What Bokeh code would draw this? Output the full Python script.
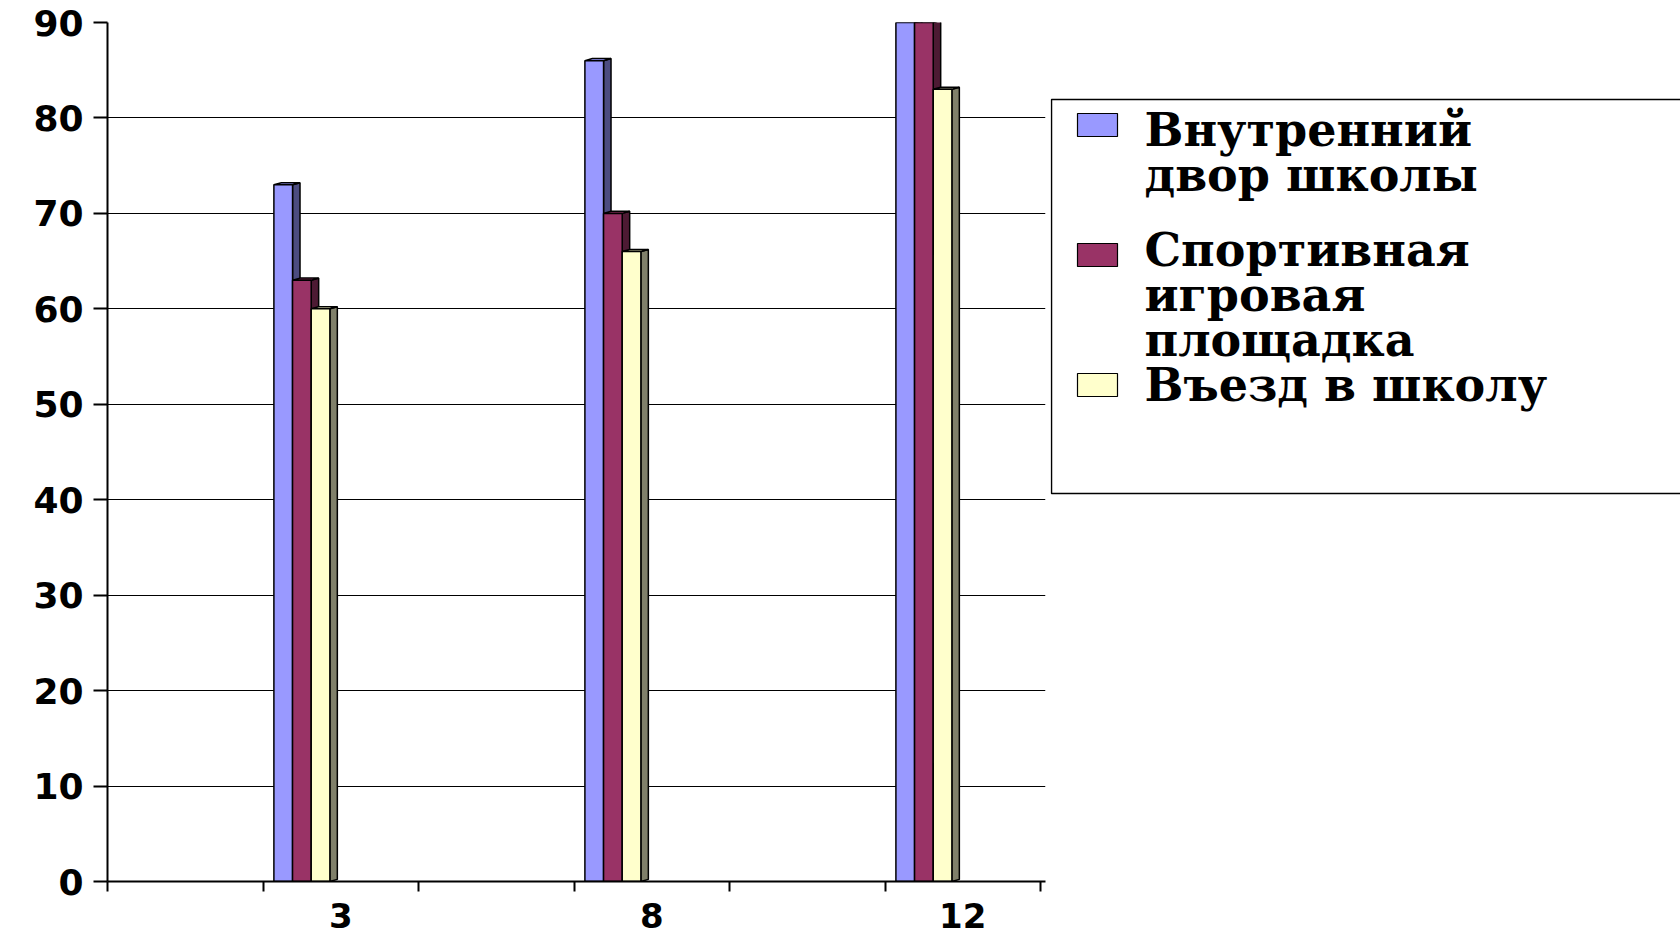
from bokeh.plotting import figure
from bokeh.models import FixedTicker, Range1d
from bokeh.layouts import row
from bokeh.core.properties import value
from bokeh.embed import file_html
from bokeh.resources import INLINE

# ---- data ----
categories = ["3", "8", "12"]
series_labels = ["Внутренний\nдвор школы", "Спортивная\nигровая\nплощадка", "Въезд в школу"]
inner_yard = [73, 86, 90]
sports_ground = [63, 70, 90]
school_entrance = [60, 66, 83]
y_ticks = [0, 10, 20, 30, 40, 50, 60, 70, 80, 90]

series = [inner_yard, sports_ground, school_entrance]
front_colors = ["#9999FF", "#993366", "#FFFFCC"]
side_colors = ["#4C4C80", "#4D1A33", "#80806A"]

# ---- layout helpers ----
slots = 6
cat_centers = [2 * i + 1.5 for i in range(len(categories))]
bar_offset = 0.07
bar_w = 0.12
depth_x = 0.048
depth_y = 0.22

TOP, BOTTOM = 22, 881

p = figure(width=1050, height=934, x_range=Range1d(0, 6.032), y_range=Range1d(0, 90),
           output_backend="svg", toolbar_location=None,
           min_border_left=107, min_border_right=5, min_border_top=TOP, min_border_bottom=934 - BOTTOM,
           background_fill_color="white", border_fill_color="white")
p.outline_line_color = None
p.xgrid.visible = False
p.ygrid.ticker = FixedTicker(ticks=y_ticks)
p.ygrid.grid_line_color = "black"
p.ygrid.grid_line_width = 1

for m, vals in enumerate(series):
    lefts, rights, tops = [], [], []
    side_xs, side_ys, top_xs, top_ys = [], [], [], []
    for i, v in enumerate(vals):
        x0 = 2 * i + 1 + bar_offset + m * bar_w
        x1 = x0 + bar_w
        lefts.append(x0); rights.append(x1); tops.append(v)
        side_xs.append([x1, x1 + depth_x, x1 + depth_x, x1])
        side_ys.append([0, depth_y, v + depth_y, v])
        top_xs.append([x0, x1, x1 + depth_x, x0 + depth_x])
        top_ys.append([v, v, v + depth_y, v + depth_y])
    p.patches(side_xs, side_ys, fill_color=side_colors[m], line_color="black", line_width=1.5)
    p.patches(top_xs, top_ys, fill_color=front_colors[m], line_color="black", line_width=1.5)
    p.quad(left=lefts, right=rights, bottom=0, top=tops,
           fill_color=front_colors[m], line_color="black", line_width=1.5)

# y axis
yax = p.yaxis[0]
yax.ticker = FixedTicker(ticks=y_ticks)
yax.axis_line_width = 2
yax.axis_line_color = "black"
yax.major_tick_out = 14
yax.major_tick_in = 0
yax.major_tick_line_width = 2
yax.major_label_standoff = 10
yax.major_label_text_font = "DejaVu Sans"
yax.major_label_text_font_style = "bold"
yax.major_label_text_font_size = "36px"
yax.major_label_text_color = "black"

# x axis
xax = p.xaxis[0]
xax.ticker = FixedTicker(ticks=cat_centers, minor_ticks=list(range(slots + 1)))
xax.major_label_overrides = {c: lab for c, lab in zip(cat_centers, categories)}
xax.major_tick_line_color = None
xax.minor_tick_out = 10
xax.minor_tick_in = 0
xax.minor_tick_line_width = 2
xax.minor_tick_line_color = "black"
xax.axis_line_width = 2
xax.axis_line_color = "black"
xax.major_label_standoff = 11
xax.major_label_text_font = "DejaVu Sans"
xax.major_label_text_font_style = "bold"
xax.major_label_text_font_size = "34px"
xax.major_label_text_color = "black"

# ---- legend panel (its frame is aligned with the chart frame: pixels TOP..BOTTOM) ----
lg = figure(width=630, height=934, x_range=Range1d(0, 630), y_range=Range1d(BOTTOM, TOP),
            output_backend="svg", toolbar_location=None, min_border=0,
            min_border_top=TOP, min_border_bottom=934 - BOTTOM,
            background_fill_color="white", border_fill_color="white")
lg.axis.visible = False
lg.grid.visible = False
lg.outline_line_color = None

lg.quad(left=1, right=720, top=99, bottom=493, fill_color=None, line_color="black", line_width=1.5)

swatch_top0 = 113
swatch_step = 130
item_baselines = [145, 265, 400]
line_step = 45
text_shift = -16  # compensate text box placement
for m, lab in enumerate(series_labels):
    st = swatch_top0 + swatch_step * m
    lg.quad(left=27, right=67, top=st, bottom=st + 23,
            fill_color=front_colors[m], line_color="black", line_width=1.2)
    lines = lab.split("\n")
    base = item_baselines[m] + text_shift
    lg.text(x=[94] * len(lines), y=[base + line_step * j for j in range(len(lines))], text=lines,
            text_font=value("DejaVu Serif"), text_font_style="bold", text_font_size="46px",
            text_baseline="alphabetic", text_align="left", text_color="black")

layout = row(p, lg)
open("out.html", "w").write(file_html(layout, INLINE))
